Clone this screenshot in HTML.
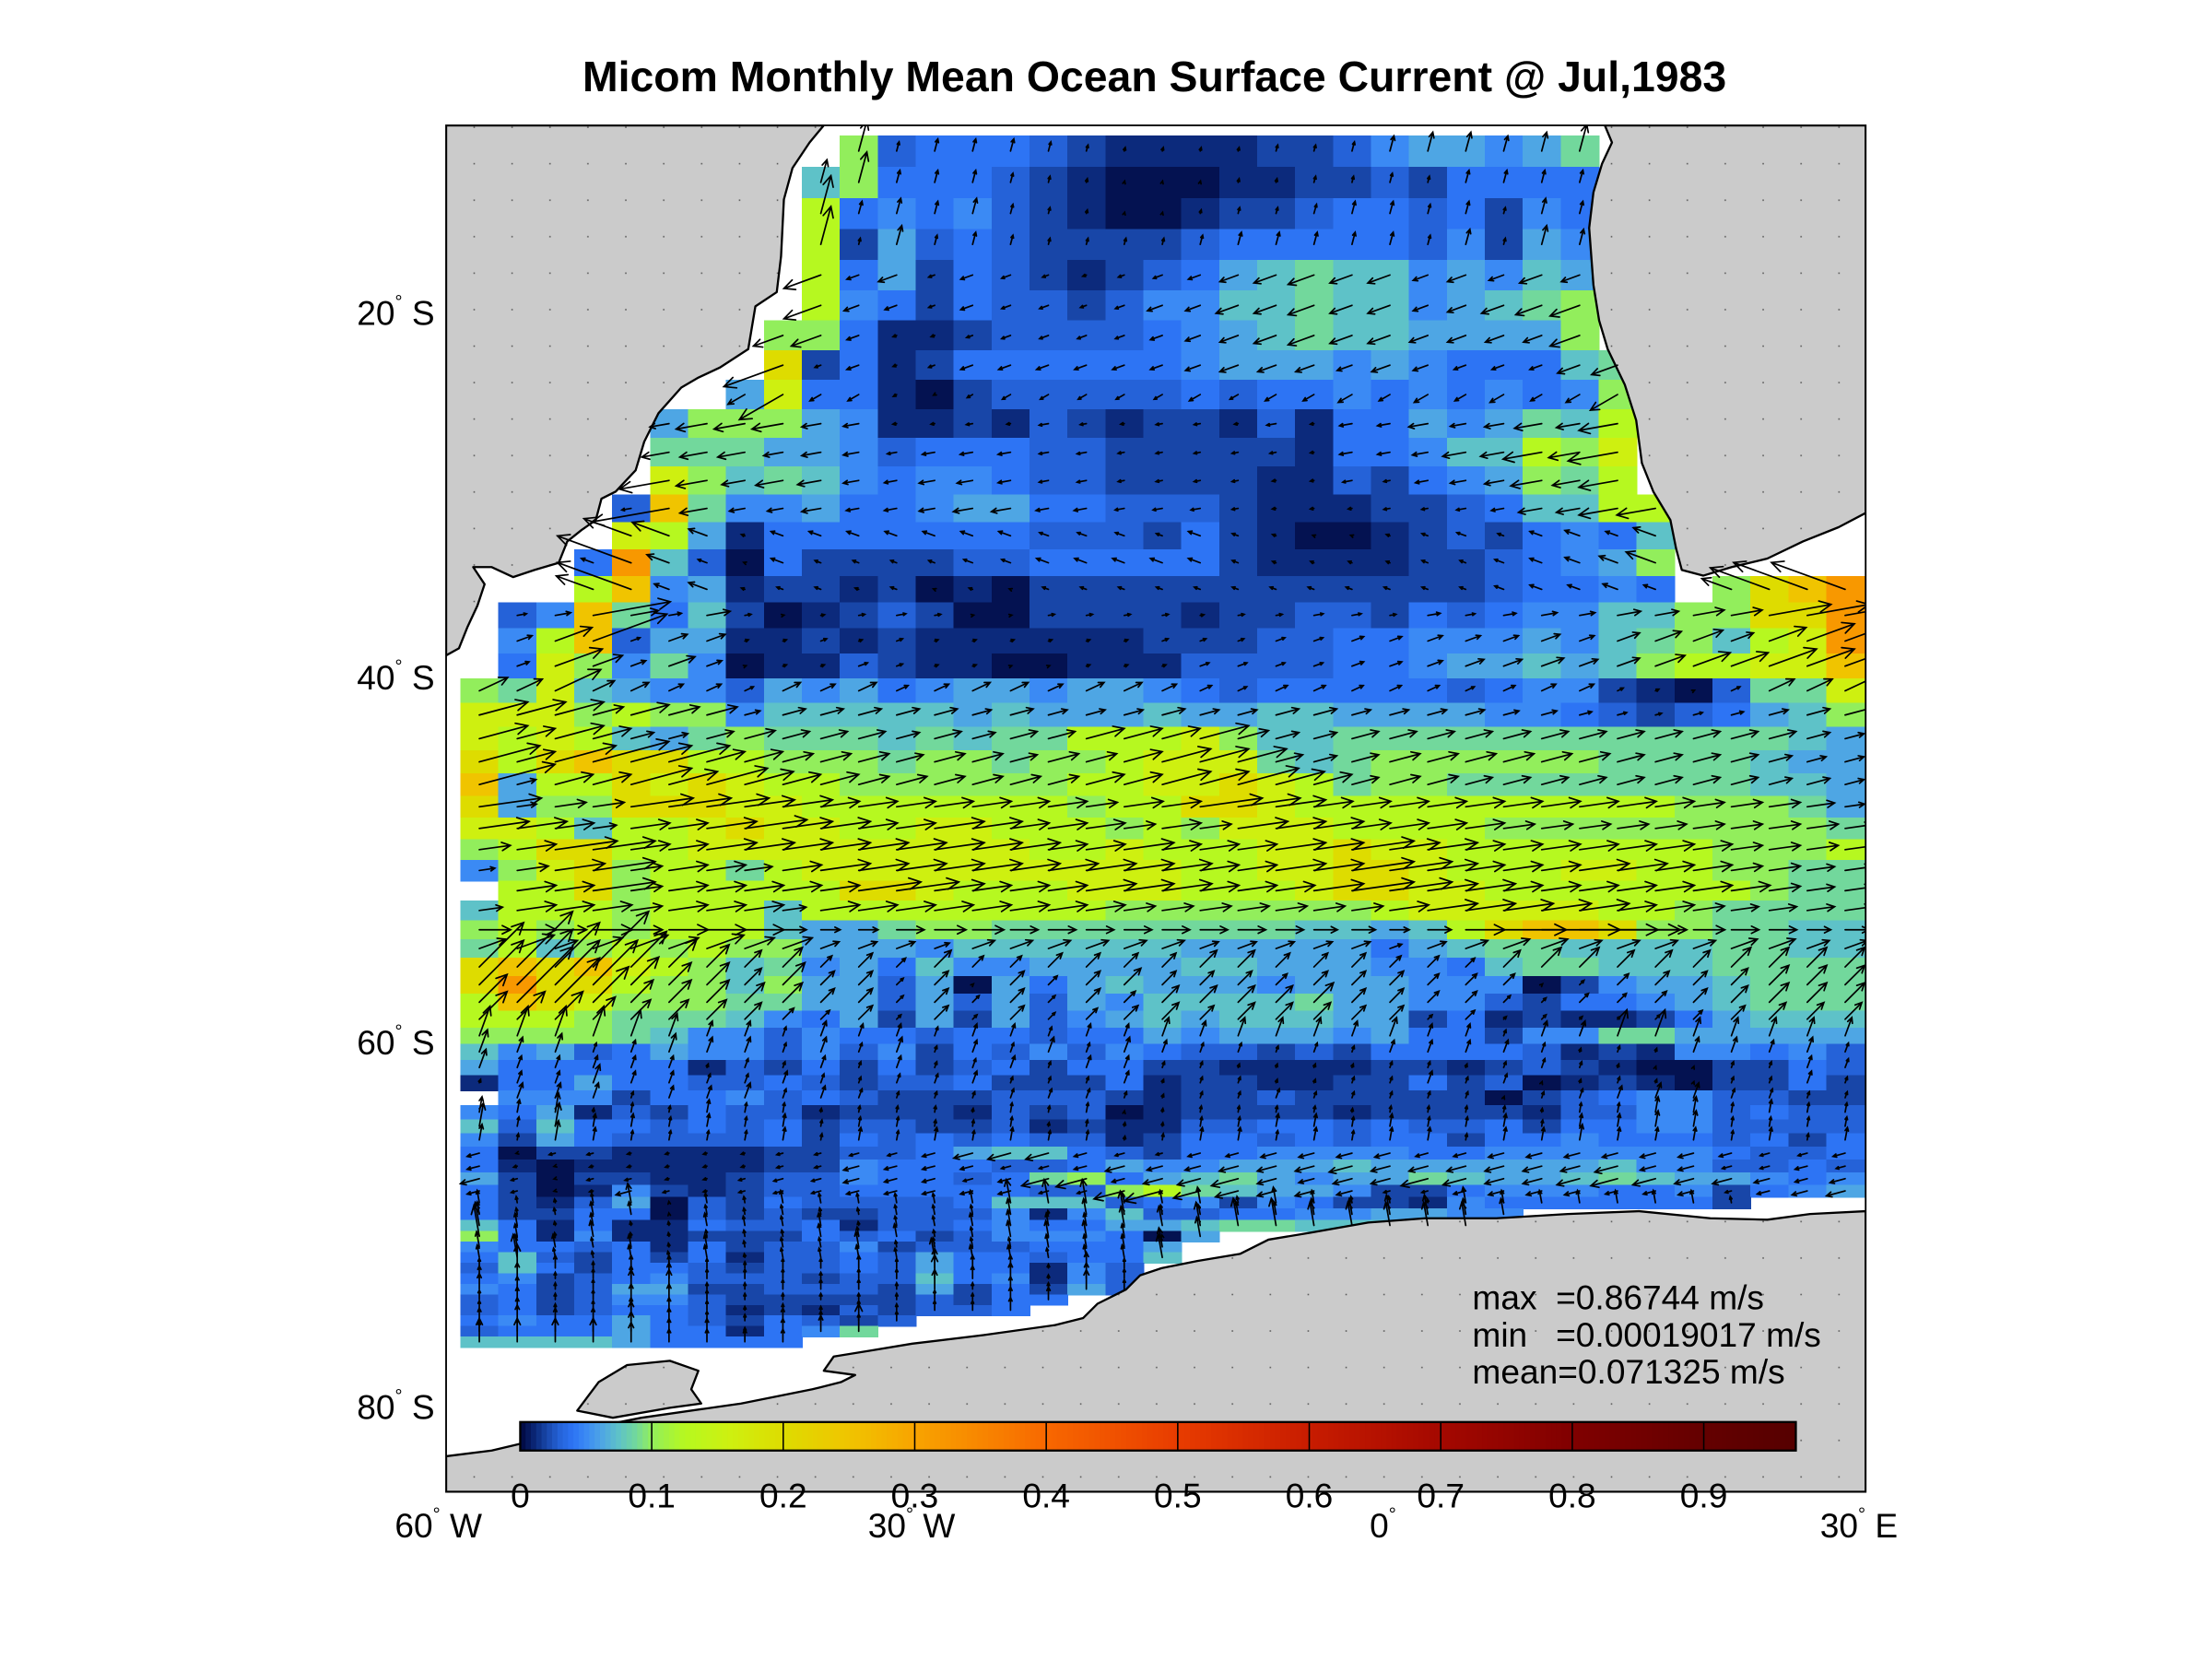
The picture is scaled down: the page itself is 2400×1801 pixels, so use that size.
<!DOCTYPE html>
<html>
<head>
<meta charset="utf-8">
<title>Micom Monthly Mean Ocean Surface Current @ Jul,1983</title>
<style>
  html,body{margin:0;padding:0;background:#fff;}
  #fig{display:block;width:2400px;height:1801px;}
  text{font-family:"Liberation Sans",Arial,sans-serif;fill:#000;}
  .pre{white-space:pre;}
</style>
</head>
<body>
<svg id="fig" xmlns="http://www.w3.org/2000/svg" width="2400" height="1801" viewBox="0 0 1552 1165" preserveAspectRatio="none">
  <defs>
    <pattern id="landdots" width="26.6" height="25.6" patternUnits="userSpaceOnUse">
      <rect x="0" y="0" width="26.6" height="25.6" fill="#cbcbcb"/>
      <rect x="13" y="12" width="1" height="1" fill="#555"/>
    </pattern>
    <clipPath id="plotclip"><rect x="313" y="88" width="996" height="959"/></clipPath>
  </defs>
  <rect x="0" y="0" width="1552" height="1165" fill="#fff"/>
  <text x="810" y="64" text-anchor="middle" font-size="30" font-weight="bold">Micom Monthly Mean Ocean Surface Current @ Jul,1983</text>

  <g clip-path="url(#plotclip)">
    <rect x="313" y="88" width="996" height="959" fill="#fff"/>
    <g id="cells" shape-rendering="crispEdges"></g>
    <g fill="url(#landdots)" stroke="#000" stroke-width="1.5" stroke-linejoin="round">
      <polygon points="313,88 578,88 568,100 556,118 550,140 548,180 545,205 530,215 525,245 505,258 490,265 478,272 462,290 452,310 446,330 432,345 422,350 418,365 408,372 398,380 392,395 375,400 360,405 345,398 332,398 340,410 335,425 328,440 322,455 313,460"/>
      <polygon points="1309,88 1126,88 1131,100 1124,115 1118,135 1115,160 1118,200 1122,225 1128,245 1140,270 1148,295 1152,325 1160,345 1172,365 1176,385 1180,400 1195,404 1215,398 1240,392 1265,380 1290,370 1309,360"/>
      <polygon points="313,1047 313,1022 345,1018 400,1005 450,995 520,985 570,975 590,970 600,965 578,962 585,952 610,948 640,943 690,937 740,930 760,925 770,915 790,905 800,895 815,890 840,885 870,880 890,870 920,865 960,858 1000,855 1050,855 1100,852 1150,850 1200,855 1240,856 1270,852 1309,850 1309,1047"/>
      <polygon points="405,990 420,970 440,958 470,955 490,962 485,975 492,985 470,988 430,995"/>
    </g>
    <g id="arrows" stroke="#000" stroke-width="1.1" fill="none" stroke-linecap="round"></g>
  </g>
  <rect x="313" y="88" width="996" height="959" fill="none" stroke="#000" stroke-width="1.2"/>

  <g font-size="24">
    <text x="305" y="228" text-anchor="end">20<tspan font-size="13" dy="-12">°</tspan><tspan dy="12"> S</tspan></text>
    <text x="305" y="484" text-anchor="end">40<tspan font-size="13" dy="-12">°</tspan><tspan dy="12"> S</tspan></text>
    <text x="305" y="740" text-anchor="end">60<tspan font-size="13" dy="-12">°</tspan><tspan dy="12"> S</tspan></text>
    <text x="305" y="996" text-anchor="end">80<tspan font-size="13" dy="-12">°</tspan><tspan dy="12"> S</tspan></text>
  </g>
  <g font-size="24">
    <text x="277" y="1079">60<tspan font-size="13" dy="-12">°</tspan><tspan dy="12"> W</tspan></text>
    <text x="609" y="1079">30<tspan font-size="13" dy="-12">°</tspan><tspan dy="12"> W</tspan></text>
    <text x="961" y="1079">0<tspan font-size="13" dy="-12">°</tspan></text>
    <text x="1277" y="1079">30<tspan font-size="13" dy="-12">°</tspan><tspan dy="12"> E</tspan></text>
  </g>

  <g font-size="24">
    <text class="pre" x="1033" y="919" xml:space="preserve">max  =0.86744 m/s</text>
    <text class="pre" x="1033" y="945" xml:space="preserve">min   =0.00019017 m/s</text>
    <text class="pre" x="1033" y="971" xml:space="preserve">mean=0.071325 m/s</text>
  </g>

  <g id="colorbar"></g>
</svg>

<script>
// ---- data: speed level per grid cell (rows north->south, 37 columns 60W->30E); '.' = no data
const levelChars = "0123456789abcdef";
const levelSpeeds = [0.004,0.012,0.02,0.03,0.04,0.05,0.062,0.075,0.088,0.1,0.125,0.16,0.2,0.25,0.32,0.42];
const gridRows = [
"..........93444321111223566568.......",
".........794443210001122324444.......",
".........a45453210012234434254.......",
".........a26343222234444435265.......",
".........a46243212346787756576.......",
".........a54243323557787756789.......",
"........9941123333456787766669.......",
"........c2412444444566656544478......",
".......6b4410233333434454545459......",
".....6999651121321221314465687a......",
".....88866534443322222144577a9b......",
".....b978754554332222113245698a......",
"....3d855644566443332111223477aa.....",
"....ba61444444433324210012324547.....",
"...4e730422223344444211112234569.....",
"...ad561221201022222222222234454.9cde",
".35d847201232002222122332434557799cce",
".5ad366112121111112223344555657897abe",
".4b95850113211001113333445667679aabbd",
"98b765536564566566543444443455210388b",
"bbb9a99577777676667667766665543234679",
"baba768988878788aaab97788888888888876",
"cacdccaa999899899abbb8789999998888766",
"d6aacbcbaa999999aabbcba89988888888776",
"c699cccbbaaaaaaa9aaccbaaaaaaaaaa99986",
"bba7aabcbbaabbaaa9a9bbbaaaa9999999998",
"9accaabbbbbbbbbaabaaabbcbbaaaaaaa999a",
"59bc9aa8abbbbbbbbbbaabbccbaaabbaa9988",
".aac9aaaaaccbaaabbbaaabccbbaaaaaaa988",
"7aaa9aaa7aaaaaaaa9999999abbbbbaa98888",
"9a9a9aaa766899888888887767acddc998877",
"8a79a9a996665777777666664678877778877",
"cdcdba9785647556666776665547887778888",
"cecca99796636064676665666555025667888",
"adcb999886636363657777866553244567888",
"aaa9888754626263567677766241211246777",
"9999875535443443446566656442558866666",
"7563465535352435354332324444312155453",
"6444441324242342442211112212321002243",
"1446443343233422241221122423012102242",
".555244534322233321223222220234553322",
"5461324331222132301222212222133553433",
"7374434342332231211334434334244553333",
"5264333342434343312443434424454443424",
"4022111122334677432445555445555554334",
"4101111122544433465566676666667553343",
"6202211233544348946786566876678766545",
"420152123344444339a876652245554452456",
"4213603243333477734525422154444442...",
"4224403232233351573344556655.........",
"741411433413345446678877777..........",
"94151122243423555406.................",
"5443414233523334446..................",
"4732424133436443447..................",
"374244323343644153...................",
"452345333233745153...................",
"542366223332624263...................",
"3423553222223244.....................",
"342344312132334......................",
"454464324323.........................",
"34446441458..........................",
"777764444............................",
".....................................",
".....................................",
"....................................."
];
// mean current direction per row (degrees, 0 = east, 90 = north)
const rowAngle = [75,75,75,75,200,200,200,200,210,190,190,190,190,160,160,160,10,20,20,25,
  15,15,15,15,8,8,8,8,8,8,0,20,45,45,45,45,70,70,70,70,70,80,80,80,195,195,195,195,
  100,100,100,100,100,100,90,90,90,90,90,90,90,90,90,90,90];
// colormap stops (speed, color)
const cmapSpeeds = [0,0.012,0.02,0.03,0.04,0.05,0.062,0.075,0.088,0.1,0.125,0.16,0.2,0.25,0.3,0.4,0.5,0.6,0.7,0.8,0.9,1.0];
const cmapColors = ["#00063c","#0c2a7c","#1846a8","#2562d8","#2d74f4","#3b8af4","#4ea6e4","#5ec2c8","#72d89c","#92ee5c","#b6f820","#cef010","#dedc00","#f0c400","#f8a400","#f86800","#e83c00","#c81c00","#a40800","#800000","#640000","#500000"];
const cbTicks = [0,0.1,0.2,0.3,0.4,0.5,0.6,0.7,0.8,0.9];
const cbMax = 0.97;

// ---- layout / scales
const NS = "http://www.w3.org/2000/svg";
const colX0 = 323, colW = 26.62, nCols = 37;
function xCol(c){ return colX0 + c*colW; }
function latOfY(y){ return 20 + (y-219)/12.8; }
const rowTop = [], rowH = [];
(function(){
  let y = 95;
  for (let i=0;i<gridRows.length;i++){
    const lat = latOfY(y);
    const h = Math.max(7.4, 22.4*Math.cos(lat*Math.PI/180));
    rowTop.push(y); rowH.push(h); y += h;
  }
})();
function hex2rgb(h){ return [parseInt(h.substr(1,2),16),parseInt(h.substr(3,2),16),parseInt(h.substr(5,2),16)]; }
function colorOf(v){
  if (v<=cmapSpeeds[0]) return cmapColors[0];
  for (let i=1;i<cmapSpeeds.length;i++){
    if (v<=cmapSpeeds[i]){
      const t=(v-cmapSpeeds[i-1])/(cmapSpeeds[i]-cmapSpeeds[i-1]);
      const a=hex2rgb(cmapColors[i-1]), b=hex2rgb(cmapColors[i]);
      return "rgb("+a.map((x,k)=>Math.round(x+(b[k]-x)*t)).join(",")+")";
    }
  }
  return cmapColors[cmapColors.length-1];
}

// ---- draw cells and arrows
const cellG = document.getElementById("cells");
const arrowG = document.getElementById("arrows");
for (let r=0;r<gridRows.length;r++){
  const row = gridRows[r];
  for (let c=0;c<nCols;c++){
    const ch = row.charAt(c);
    const k = levelChars.indexOf(ch);
    if (k<0) continue;
    const speed = levelSpeeds[k];
    const el = document.createElementNS(NS,"rect");
    
    
    el.setAttribute("x", xCol(c).toFixed(2));
    el.setAttribute("y", rowTop[r].toFixed(2));
    el.setAttribute("width", (colW+0.6).toFixed(2));
    el.setAttribute("height", (rowH[r]+0.6).toFixed(2));
    el.setAttribute("fill", colorOf(speed));
    cellG.appendChild(el);

    const cx = xCol(c)+colW/2, cy = rowTop[r]+rowH[r]/2;
    const len = Math.min(55, speed*220);
    const a = rowAngle[r]*Math.PI/180;
    const tx = cx+len*Math.cos(a), ty = cy-len*Math.sin(a);
    const hs = Math.max(2, Math.min(9, len*0.3));
    const b1 = a+Math.PI-0.45, b2 = a+Math.PI+0.45;
    const d = "M"+cx.toFixed(1)+" "+cy.toFixed(1)+"L"+tx.toFixed(1)+" "+ty.toFixed(1)+
      "M"+(tx+hs*Math.cos(b1)).toFixed(1)+" "+(ty-hs*Math.sin(b1)).toFixed(1)+"L"+tx.toFixed(1)+" "+ty.toFixed(1)+
      "L"+(tx+hs*Math.cos(b2)).toFixed(1)+" "+(ty-hs*Math.sin(b2)).toFixed(1);
    const ar = document.createElementNS(NS,"path");
    
    
    ar.setAttribute("d", d);
    arrowG.appendChild(ar);
  }
}

// ---- colorbar
const cb = document.getElementById("colorbar");
const cbX0 = 365, cbX1 = 1260, cbY = 998, cbH = 20;
function xCb(v){ return cbX0 + (v/cbMax)*(cbX1-cbX0); }
const nSlices = 240;
for (let i=0;i<nSlices;i++){
  const v0 = cbMax*i/nSlices, v1 = cbMax*(i+1)/nSlices;
  const s = document.createElementNS(NS,"rect");
  
  
  s.setAttribute("x", xCb(v0).toFixed(2));
  s.setAttribute("y", cbY);
  s.setAttribute("width", (xCb(v1)-xCb(v0)+0.5).toFixed(2));
  s.setAttribute("height", cbH);
  s.setAttribute("fill", colorOf((v0+v1)/2));
  cb.appendChild(s);
}
for (let i=0;i<cbTicks.length;i++){
  const v = cbTicks[i];
  if (v>0){
    const t = document.createElementNS(NS,"line");
    
    
    t.setAttribute("x1", xCb(v)); t.setAttribute("x2", xCb(v));
    t.setAttribute("y1", cbY); t.setAttribute("y2", cbY+cbH);
    t.setAttribute("stroke", "#000"); t.setAttribute("stroke-width", "1");
    cb.appendChild(t);
  }
  const lb = document.createElementNS(NS,"text");
  
  
  lb.setAttribute("x", xCb(v));
  lb.setAttribute("y", 1058);
  lb.setAttribute("text-anchor", "middle");
  lb.setAttribute("font-size", "24");
  lb.textContent = String(v);
  cb.appendChild(lb);
}
const frame = document.createElementNS(NS,"rect");


frame.setAttribute("x", cbX0); frame.setAttribute("y", cbY);
frame.setAttribute("width", cbX1-cbX0); frame.setAttribute("height", cbH);
frame.setAttribute("fill", "none"); frame.setAttribute("stroke", "#000"); frame.setAttribute("stroke-width", "1.5");
cb.appendChild(frame);
</script>
</body>
</html>
